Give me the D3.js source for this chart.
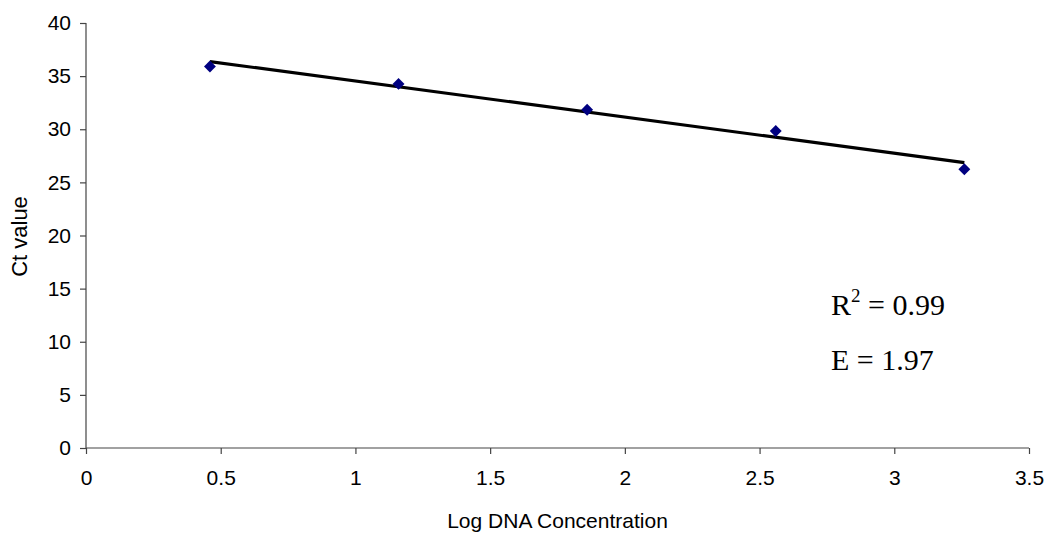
<!DOCTYPE html>
<html>
<head>
<meta charset="utf-8">
<script src="https://cdn.jsdelivr.net/npm/d3@7"></script>
<style>
  body { margin: 0; background: #fff; }
  svg text { font-family: "Liberation Sans", Arial, sans-serif; fill: #000; }
</style>
</head>
<body>
<div id="chart"></div>
<script>
// data
var logConc = [0.46, 1.16, 1.86, 2.56, 3.26];
var ctValues = [35.9, 34.27, 31.84, 29.83, 26.24];
var xTicks = [0, 0.5, 1, 1.5, 2, 2.5, 3, 3.5];
var yTicks = [0, 5, 10, 15, 20, 25, 30, 35, 40];
var notes = ["R", " = 0.99", "E = 1.97"];

var W = 1055, H = 533;
var margin = {top: 23, right: 26, bottom: 85, left: 86},
    width = W - margin.left - margin.right,
    height = H - margin.top - margin.bottom;

var svg = d3.select("#chart")
  .append("svg")
    .attr("width", W)
    .attr("height", H)
  .append("g")
    .attr("transform", "translate(" + margin.left + "," + margin.top + ")");

var x = d3.scaleLinear().domain([0, 3.5]).range([0, width]);
var y = d3.scaleLinear().domain([0, 40]).range([height, 0]);

// X axis
var gx = svg.append("g")
  .attr("transform", "translate(0," + height + ")")
  .call(d3.axisBottom(x).tickValues(xTicks).tickSize(6).tickPadding(16)
    .tickFormat(function(d) { return d; }));
// Y axis
var gy = svg.append("g")
  .call(d3.axisLeft(y).tickValues(yTicks).tickSize(6).tickPadding(9));

[gx, gy].forEach(function(g) {
  g.selectAll("path, line").attr("stroke", "#444").attr("stroke-width", 1.2);
  g.selectAll("text").style("font-size", "21px").attr("fill", "#000");
});
gx.select(".domain").attr("d", "M0,0H" + width);
gy.select(".domain").attr("d", "M0,0V" + height);

// axis titles
svg.append("text")
  .attr("x", width / 2)
  .attr("y", height + 80)
  .attr("text-anchor", "middle")
  .style("font-size", "21px")
  .text("Log DNA Concentration");

svg.append("text")
  .attr("transform", "translate(" + (-59) + "," + (height / 2 + 1) + ") rotate(-90)")
  .attr("text-anchor", "middle")
  .style("font-size", "22px")
  .text("Ct value");

// linear trendline (least squares)
var mx = d3.mean(logConc), my = d3.mean(ctValues);
var sxy = d3.sum(logConc, function(v, i) { return (v - mx) * (ctValues[i] - my); });
var sxx = d3.sum(logConc, function(v) { return (v - mx) * (v - mx); });
var slope = sxy / sxx, icpt = my - slope * mx;
var x0 = d3.min(logConc), x1 = d3.max(logConc);

svg.append("line")
  .attr("x1", x(x0)).attr("y1", y(icpt + slope * x0))
  .attr("x2", x(x1)).attr("y2", y(icpt + slope * x1))
  .attr("stroke", "#000")
  .attr("stroke-width", 3.2);

// points
svg.selectAll("mypoint")
  .data(logConc)
  .enter()
  .append("path")
    .attr("d", d3.symbol().type(d3.symbolDiamond2).size(90))
    .attr("transform", function(d, i) { return "translate(" + x(d) + "," + y(ctValues[i]) + ")"; })
    .attr("fill", "#000080");

// annotation
var ann = svg.append("g").attr("transform", "translate(" + (x(2.765)) + ",0)");
var t1 = ann.append("text")
  .attr("y", y(12.5))
  .style("font-family", "'Liberation Serif', 'Times New Roman', serif")
  .style("font-size", "30px");
t1.append("tspan").text(notes[0]);
t1.append("tspan").attr("dy", -13).style("font-size", "19px").text("2");
t1.append("tspan").attr("dy", 13).text(notes[1]);

ann.append("text")
  .attr("y", y(7.3))
  .style("font-family", "'Liberation Serif', 'Times New Roman', serif")
  .style("font-size", "30px")
  .text(notes[2]);
</script>
</body>
</html>
